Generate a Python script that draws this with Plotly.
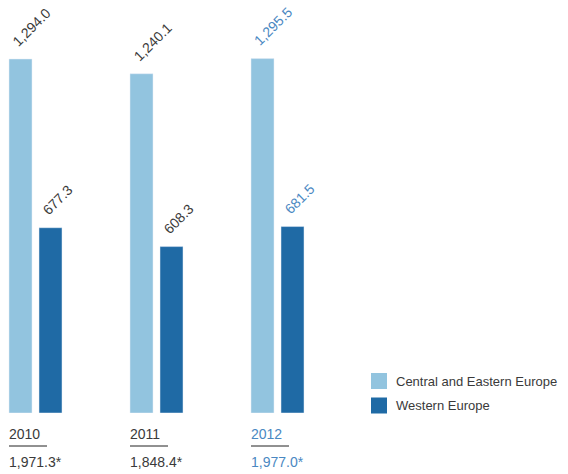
import plotly.graph_objects as go

years = ["2010", "2011", "2012"]
series_names = ["Central and Eastern Europe", "Western Europe"]
cee_values = [1294.0, 1240.1, 1295.5]
we_values = [677.3, 608.3, 681.5]
totals = ["1,971.3*", "1,848.4*", "1,977.0*"]

LIGHT = "#92c4df"
DARK = "#1f6aa5"
GRAY = "#3a3a3a"
BLUE = "#4a88c2"
FONT = "Liberation Sans"

W, H = 568, 474
bottom_px = 413           # baseline pixel
pitch = 121               # px per category
x0_px = 35.5              # center of first group
px_per_unit = 354 / 1294.0

bargap = 1 - 60 / pitch
bargroupgap = 7 / 30
slot = (1 - bargap) / 2
xmin = -x0_px / pitch
xmax = (W - x0_px) / pitch
ymax = bottom_px / px_per_unit

fig = go.Figure()
fig.add_trace(go.Bar(x=years, y=cee_values, name=series_names[0], marker_color=LIGHT,
                     hoverinfo="skip"))
fig.add_trace(go.Bar(x=years, y=we_values, name=series_names[1], marker_color=DARK,
                     hoverinfo="skip"))

annotations = []
shapes = []
for i, yr in enumerate(years):
    col = BLUE if i == len(years) - 1 else GRAY
    for j, vals in enumerate([cee_values, we_values]):
        center = i - slot / 2 + j * slot
        annotations.append(dict(
            x=center, y=vals[i], xref="x", yref="y",
            text=f"{vals[i]:,.1f}", showarrow=False, textangle=-45,
            xanchor="left", yanchor="bottom", xshift=-14, yshift=7,
            font=dict(family=FONT, size=14, color=col)))
    left = i - slot + (slot * bargroupgap) / 2
    annotations.append(dict(
        x=left, y=(bottom_px - 433.5) / bottom_px, xref="x", yref="paper",
        text=yr, showarrow=False, xanchor="left", yanchor="middle", xshift=-2,
        font=dict(family=FONT, size=14, color=col)))
    annotations.append(dict(
        x=left, y=(bottom_px - 462) / bottom_px, xref="x", yref="paper",
        text=totals[i], showarrow=False, xanchor="left", yanchor="middle", xshift=-2,
        font=dict(family=FONT, size=14, color=col)))
    shapes.append(dict(
        type="line", xref="x", yref="paper",
        x0=left, x1=left + 38 / pitch,
        y0=(bottom_px - 446) / bottom_px, y1=(bottom_px - 446) / bottom_px,
        line=dict(color="#222222", width=1)))

# legend
for k, (name, col) in enumerate(zip(series_names, [LIGHT, DARK])):
    top = 373 + k * 24.5
    shapes.append(dict(
        type="rect", xref="paper", yref="paper",
        x0=371 / W, x1=387 / W,
        y0=(bottom_px - top) / bottom_px, y1=(bottom_px - top - 16) / bottom_px,
        fillcolor=col, line=dict(width=0)))
    annotations.append(dict(
        x=394 / W, y=(bottom_px - top - 8) / bottom_px, xref="paper", yref="paper",
        text=name, showarrow=False, xanchor="left", yanchor="middle",
        font=dict(family=FONT, size=13, color=GRAY)))

fig.update_layout(
    width=W, height=H,
    margin=dict(l=0, r=0, t=0, b=H - bottom_px, pad=0),
    paper_bgcolor="white", plot_bgcolor="white",
    barmode="group", bargap=bargap, bargroupgap=bargroupgap,
    showlegend=False,
    xaxis=dict(range=[xmin, xmax], showticklabels=False, showgrid=False,
               zeroline=False, showline=False, ticks=""),
    yaxis=dict(range=[0, ymax], showticklabels=False, showgrid=False,
               zeroline=False, showline=False, ticks=""),
    annotations=annotations, shapes=shapes,
)

fig.write_html("out.html", config={"displayModeBar": False},
               post_script="document.body.style.margin='0px';document.body.style.overflow='hidden';")
